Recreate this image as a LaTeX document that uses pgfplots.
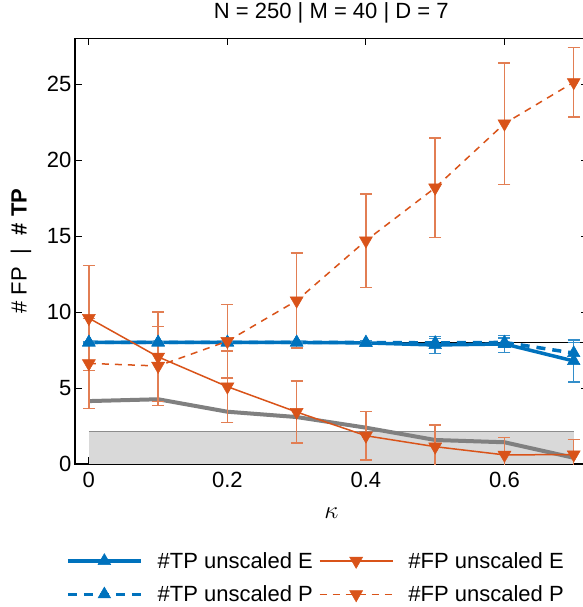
\documentclass[border=0pt]{standalone}
\usepackage{fontspec}
\setmainfont{Liberation Sans}
\usepackage{pgfplots}
\usepackage{pgfplotstable}
\pgfplotsset{compat=1.18}
\definecolor{mblue}{rgb}{0,0.447,0.741}
\definecolor{morange}{rgb}{0.851,0.325,0.098}
\definecolor{shade}{HTML}{D9D9D9}
\definecolor{shadeline}{HTML}{8C8C8C}
\definecolor{grayline}{HTML}{808080}

\pgfplotstableread{
x   tpE  tpEe tpP  tpPe fpE  fpEe fpP   fpPe gray
0   8.00 0.05 8.00 0.05 9.60 3.45 6.62  2.96 4.14
0.1 8.00 0.05 8.00 0.05 7.05 2.95 6.45  2.61 4.26
0.2 8.00 0.05 8.00 0.05 5.09 2.35 8.08  2.43 3.44
0.3 8.00 0.05 8.00 0.05 3.42 2.03 10.75 3.13 3.09
0.4 7.97 0.15 8.00 0.10 1.86 1.60 14.70 3.07 2.39
0.5 7.83 0.55 7.97 0.30 1.14 1.43 18.18 3.26 1.58
0.6 7.90 0.57 8.00 0.30 0.60 1.13 22.40 4.00 1.43
0.7 6.78 1.37 7.30 0.70 0.62 1.00 25.12 2.30 0.41
}\data

\begin{document}
\begin{tikzpicture}[font=\fontsize{22}{26}\selectfont]
\begin{axis}[
  scale only axis, width=512.6pt, height=425.5pt,
  xmin=-0.02, xmax=0.72, ymin=0, ymax=28,
  xtick={0,0.2,0.4,0.6}, ytick={0,5,10,15,20,25},
  /pgf/number format/assume math mode=true,
  tick align=inside, major tick length=7pt,
  tick style={black, line width=1pt},
  axis line style={black, line width=1.5pt},
  every tick label/.append style={font=\fontsize{22}{26}\selectfont},
  x tick label style={yshift=-5pt},
  title={N = 250 | M = 40 | D = 7},
  title style={at={(axis description cs:0.5,1)}, anchor=base, yshift=13.5pt, font=\fontsize{22}{26}\selectfont},
  xlabel={$\kappa$},
  every axis x label/.style={at={(axis description cs:0.5,-0.115)}, anchor=center, font=\fontsize{25}{28}\selectfont},
  ylabel={\# FP\hspace{0.6em}|\hspace{0.6em}\textbf{\# TP}},
  every axis y label/.style={at={(axis description cs:-0.1053,0.5)}, rotate=90, anchor=center, font=\fontsize{22}{26}\selectfont},
  legend columns=2,
  legend cell align=left,
  legend style={at={(axis description cs:0.470,-0.267)}, anchor=center, draw=none, fill=none,
    font=\fontsize{22}{26}\selectfont, row sep=12pt,
    /tikz/every even column/.append style={column sep=4pt}},
  legend image code/.code={\draw[mark repeat=2,mark phase=2,#1] plot coordinates {(0pt,0pt) (36.5pt,0pt) (73pt,0pt)}; \path (86pt,0pt);},
  error bars/y dir=both, error bars/y explicit,
]
\addplot[fill=shade, draw=none, forget plot] coordinates {(0,2.12) (0.7,2.12)} \closedcycle;
\addplot[shadeline, line width=1.2pt, forget plot] coordinates {(0,2.12) (0.7,2.12)};
\addplot[grayline, line width=4pt, forget plot] table[x=x, y=gray] {\data};
\addplot[black, line width=1pt, forget plot] coordinates {(0,8) (0.72,8)};

\addplot[mblue, line width=3.5pt, mark=triangle*, mark size=7.3pt, mark options={solid, line width=0.5pt},
  error bars/.cd, error bar style={mblue!80!white, line width=1.5pt, solid}, error mark options={rotate=90, mark size=6pt, line width=1.5pt, mblue!80!white}]
  table[x=x, y=tpE, y error=tpEe] {\data};
\addlegendentry{\#TP unscaled E}

\addplot[morange, line width=1.5pt, mark=triangle*, mark size=7.5pt, mark options={solid, rotate=180, line width=0.5pt},
  error bars/.cd, error bar style={morange!75!white, line width=1.5pt, solid}, error mark options={rotate=90, mark size=6pt, line width=1.5pt, morange!75!white}]
  table[x=x, y=fpE, y error=fpEe] {\data};
\addlegendentry{\#FP unscaled E}

\addplot[mblue, line width=3.5pt, dash pattern=on 9pt off 7pt, mark=triangle*, mark size=7.3pt, mark options={solid, line width=0.5pt},
  error bars/.cd, error bar style={mblue!80!white, line width=1.5pt, solid}, error mark options={rotate=90, mark size=6pt, line width=1.5pt, mblue!80!white}]
  table[x=x, y=tpP, y error=tpPe] {\data};
\addlegendentry{\#TP unscaled P}

\addplot[morange, line width=1.5pt, dash pattern=on 7pt off 6pt, mark=triangle*, mark size=7.5pt, mark options={solid, rotate=180, line width=0.5pt},
  error bars/.cd, error bar style={morange!75!white, line width=1.5pt, solid}, error mark options={rotate=90, mark size=6pt, line width=1.5pt, morange!75!white}]
  table[x=x, y=fpP, y error=fpPe] {\data};
\addlegendentry{\#FP unscaled P}
\end{axis}
\pgfresetboundingbox
\path[use as bounding box] ([shift={(-75pt,-143pt)}]current axis.south west) rectangle ([shift={(507pt,464pt)}]current axis.south west);
\end{tikzpicture}
\end{document}
